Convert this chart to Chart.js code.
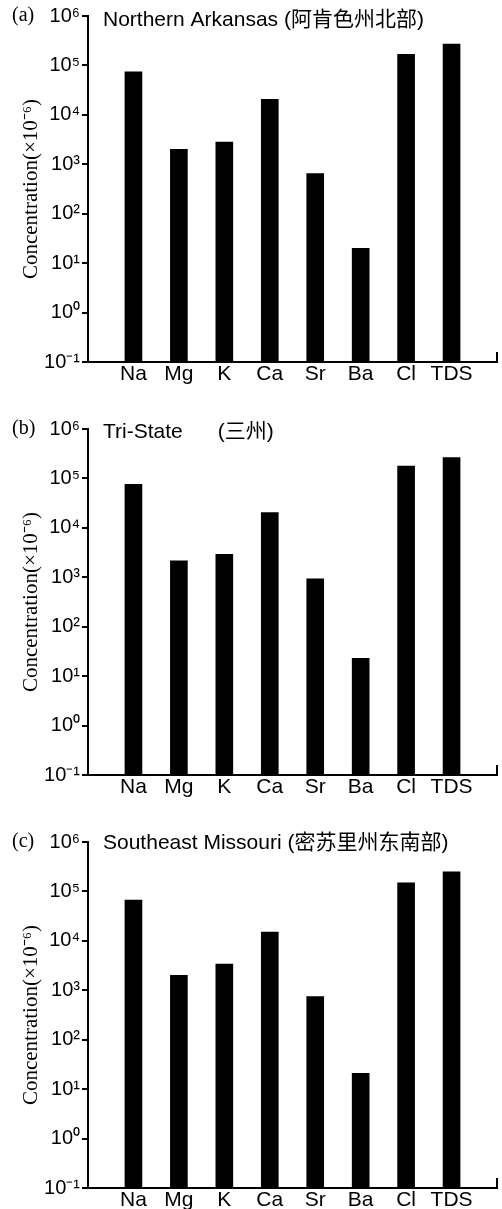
<!DOCTYPE html>
<html>
<head>
<meta charset="utf-8">
<script src="https://cdn.jsdelivr.net/npm/chart.js@4.4.1/dist/chart.umd.min.js"></script>
<style>
  html, body { margin: 0; padding: 0; background: #fff; }
  .wrap { position: relative; width: 502px; height: 1209px; overflow: hidden; }
  .panel { position: absolute; left: 0; width: 502px; height: 413px; }
</style>
</head>
<body>
<div class="wrap">
  <div class="panel" style="top:0"><canvas id="chartA" width="502" height="413"></canvas></div>
  <div class="panel" style="top:413px"><canvas id="chartB" width="502" height="413"></canvas></div>
  <div class="panel" style="top:826px"><canvas id="chartC" width="502" height="413"></canvas></div>
</div>
<script>
// data (concentration, x10^-6)
const elements = ['Na', 'Mg', 'K', 'Ca', 'Sr', 'Ba', 'Cl', 'TDS'];
const arkansas = [74000, 2000, 2800, 20500, 650, 20, 168000, 270000];
const triState = [76000, 2150, 2900, 20400, 930, 23, 178000, 265000];
const missouri = [67000, 2000, 3400, 15000, 750, 21, 150000, 250000];
const tickValues = [0.1, 1, 10, 100, 1000, 10000, 100000, 1000000];
const tickLabels = ['10\u207B\u00B9', '10\u2070', '10\u00B9', '10\u00B2', '10\u00B3', '10\u2074', '10\u2075', '10\u2076'];

Chart.defaults.color = '#000';
Chart.defaults.font.family = '"Liberation Sans", Arial, sans-serif';

// panel tag, title and the little end tick on the x axis
const panelDeco = {
  id: 'panelDeco',
  afterDraw(chart, args, opts) {
    const { ctx, chartArea: { left, right, top, bottom } } = chart;
    ctx.save();
    ctx.strokeStyle = '#000';
    ctx.lineWidth = 2;
    ctx.beginPath();
    ctx.moveTo(right, bottom);
    ctx.lineTo(right, bottom - 10);
    ctx.stroke();
    ctx.fillStyle = '#000';
    ctx.textBaseline = 'middle';
    ctx.font = '20px "Liberation Serif", "Times New Roman", serif';
    ctx.fillText(opts.tag, 12, top);
    ctx.font = '21px "Liberation Sans", Arial, "Noto Sans CJK SC", sans-serif';
    ctx.fillText(opts.title, left + 15, top + opts.dy);
    ctx.restore();
  }
};

function makeChart(id, values, tag, title, dy) {
  // blank slots at both ends leave the gap the original axis has
  const labels = [''].concat(elements, ['']);
  const data = [null].concat(values, [null]);
  return new Chart(document.getElementById(id), {
    type: 'bar',
    data: {
      labels,
      datasets: [{ data, backgroundColor: '#000', borderWidth: 0, barThickness: 17 }]
    },
    plugins: [panelDeco],
    options: {
      responsive: false,
      animation: false,
      layout: { padding: { top: 16, right: 5, left: 0, bottom: 0 } },
      plugins: {
        legend: { display: false },
        tooltip: { enabled: false },
        panelDeco: { tag, title, dy }
      },
      scales: {
        x: {
          type: 'category',
          offset: false,
          grid: { display: false, drawTicks: false },
          border: { display: true, color: '#000', width: 2 },
          ticks: { font: { size: 21 }, padding: 0, maxRotation: 0, autoSkip: false },
          afterFit: s => { s.height = 51; }
        },
        y: {
          type: 'logarithmic',
          min: 0.1,
          max: 1000000,
          grid: { drawOnChartArea: false, drawTicks: true, tickLength: 6, color: '#000', lineWidth: 2 },
          border: { display: true, color: '#000', width: 2 },
          ticks: {
            font: { size: 20 },
            padding: 2,
            callback: (v) => {
              const i = tickValues.findIndex(t => Math.abs(Math.log10(t) - Math.log10(v)) < 1e-6);
              return i >= 0 ? tickLabels[i] : '';
            }
          },
          afterBuildTicks: s => { s.ticks = tickValues.map(v => ({ value: v })); },
          title: {
            display: true,
            text: 'Concentration(\u00D710\u207B\u2076)',
            font: { family: '"Liberation Serif", "Times New Roman", serif', size: 21 },
            padding: { top: 19, bottom: 0 }
          },
          afterFit: s => { s.width = 88; }
        }
      }
    }
  });
}

makeChart('chartA', arkansas, '(a)', 'Northern Arkansas (阿肯色州北部)', 4);
makeChart('chartB', triState, '(b)', 'Tri-State      (三州)', 3);
makeChart('chartC', missouri, '(c)', 'Southeast Missouri (密苏里州东南部)', 1);
</script>
</body>
</html>
